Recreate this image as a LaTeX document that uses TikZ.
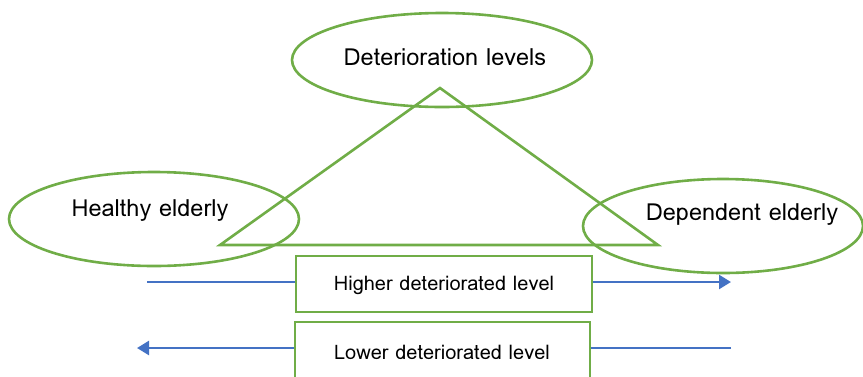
\documentclass[tikz,border=0pt]{standalone}
\usepackage{fontspec}
\setmainfont{Loma}
\usetikzlibrary{shapes.geometric,arrows.meta}
\definecolor{leaf}{HTML}{70AD47}
\definecolor{flow}{HTML}{4472C4}
\tikzset{
  stage/.style={ellipse, draw=leaf, line width=2.6pt, inner sep=0pt},
  stagetext/.style={font=\fontsize{23.5}{28}\selectfont},
  levelbox/.style={draw=leaf, line width=2.6pt, fill=white, inner sep=0pt},
  leveltext/.style={font=\fontsize{20}{24}\selectfont},
  flowline/.style={draw=flow, line width=2.4pt},
  flowarrow/.style={flowline, -{Triangle[length=12pt,width=14pt]}}
}
\begin{document}
\begin{tikzpicture}[x=1pt,y=-1pt]
\useasboundingbox (0,0) rectangle (863,376);
\clip (0,0) rectangle (863,376);
% three stages
\node[stage, minimum width=300pt, minimum height=94pt] (det) at (442,60) {};
\node[stagetext] at (445,57) {Deterioration levels};
\node[stage, minimum width=290pt, minimum height=94pt] (healthy) at (154,219) {};
\node[stagetext] at (150,211) {Healthy elderly};
\node[stage, minimum width=280pt, minimum height=94pt] (dep) at (723,226) {};
\node[stagetext] at (742,215) {Dependent elderly};
% triangle
\coordinate (apex) at (440,88);
\coordinate (bl) at (220,245);
\coordinate (br) at (658,245);
\draw[leaf, line width=2.6pt, line join=miter] (apex) -- (bl) -- (br) -- cycle;
% level boxes
\node[levelbox, minimum width=296pt, minimum height=56pt] (higher) at (444,284) {};
\node[leveltext] at (444,285) {Higher deteriorated level};
\node[levelbox, minimum width=295pt, minimum height=80pt] (lower) at (442.5,362) {};
\node[leveltext] at (442,352) {Lower deteriorated level};
% flow arrows
\coordinate (hs) at (147,282);
\coordinate (he) at (731,282);
\coordinate (ls) at (731,348);
\coordinate (le) at (137,348);
\draw[flowline] (hs) -- (hs -| higher.west);
\draw[flowarrow] (he -| higher.east) -- (he);
\draw[flowline] (ls) -- (ls -| lower.east);
\draw[flowarrow] (le -| lower.west) -- (le);
\end{tikzpicture}
\end{document}
